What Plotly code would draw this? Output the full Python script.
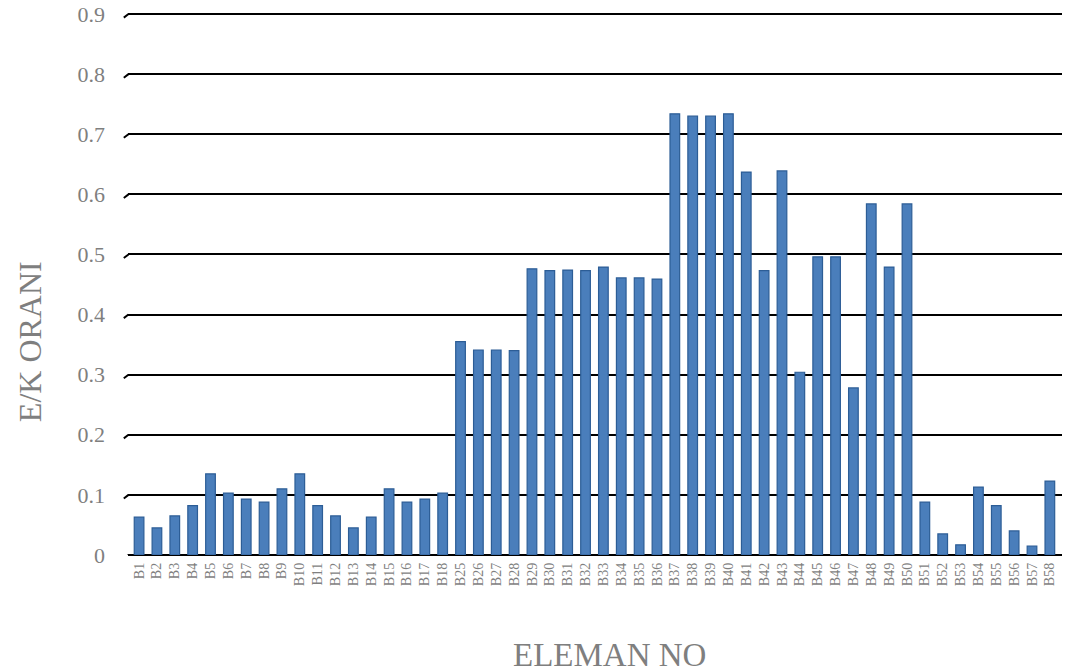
import plotly.graph_objects as go

categories = [f"B{i}" for i in range(1, 19)] + [f"B{i}" for i in range(25, 59)]
values = [0.063, 0.045, 0.065, 0.082, 0.135, 0.103, 0.093, 0.088, 0.110, 0.135,
          0.082, 0.065, 0.045, 0.063, 0.110, 0.088, 0.093, 0.103,
          0.355, 0.341, 0.341, 0.340, 0.476, 0.473, 0.474, 0.473, 0.479, 0.461,
          0.461, 0.459, 0.734, 0.730, 0.730, 0.734, 0.637, 0.473, 0.639, 0.304,
          0.496, 0.496, 0.278, 0.584, 0.479, 0.584, 0.088, 0.035, 0.017, 0.113,
          0.082, 0.040, 0.015, 0.123]
y_ticks = [0, 0.1, 0.2, 0.3, 0.4, 0.5, 0.6, 0.7, 0.8, 0.9]
y_tick_text = ["0", "0.1", "0.2", "0.3", "0.4", "0.5", "0.6", "0.7", "0.8", "0.9"]

GRAY = "#7f7f7f"
SERIF = "Liberation Serif, Times New Roman, serif"

fig = go.Figure()
fig.add_trace(go.Bar(
    x=categories, y=values,
    marker=dict(color="#4a7ebb", line=dict(color="#2c5d96", width=1.2)),
    width=0.54,
))

# small slanted "3D" starts of the gridlines
shapes = []
for t in y_ticks:
    shapes.append(dict(type="line", xref="paper", yref="y",
                       x0=-0.0045, y0=t - 0.006, x1=0.0005, y1=t,
                       line=dict(color="black", width=2)))

fig.update_layout(
    width=1066, height=672,
    margin=dict(l=128, r=4, t=11, b=117, autoexpand=False),
    plot_bgcolor="white", paper_bgcolor="white",
    showlegend=False,
    font=dict(family=SERIF, color=GRAY),
    shapes=shapes,
    xaxis=dict(
        type="category", tickangle=-90, tickfont=dict(size=14, color=GRAY, family=SERIF),
        showgrid=False, showline=False, ticks="", automargin=False,
        ticklabelstandoff=4, range=[-0.62, len(categories) - 1 + 0.68],
    ),
    yaxis=dict(
        range=[0, 0.905], tickvals=y_ticks, ticktext=y_tick_text,
        tickfont=dict(size=22, color=GRAY, family=SERIF),
        showgrid=True, gridcolor="black", gridwidth=2,
        zeroline=True, zerolinecolor="black", zerolinewidth=2,
        ticks="", ticklabelstandoff=22, automargin=False,
    ),
    annotations=[
        dict(text="ELEMAN NO", xref="paper", yref="paper", x=0.515, y=-0.184,
             showarrow=False, font=dict(size=33, color=GRAY, family=SERIF),
             xanchor="center", yanchor="middle"),
        dict(text="E/K ORANI", xref="paper", yref="paper", x=-0.105, y=0.393,
             showarrow=False, textangle=-90, font=dict(size=32, color=GRAY, family=SERIF),
             xanchor="center", yanchor="middle"),
    ],
)

fig.write_html("out.html", config={"displayModeBar": False},
               post_script="document.body.style.margin='0';")
